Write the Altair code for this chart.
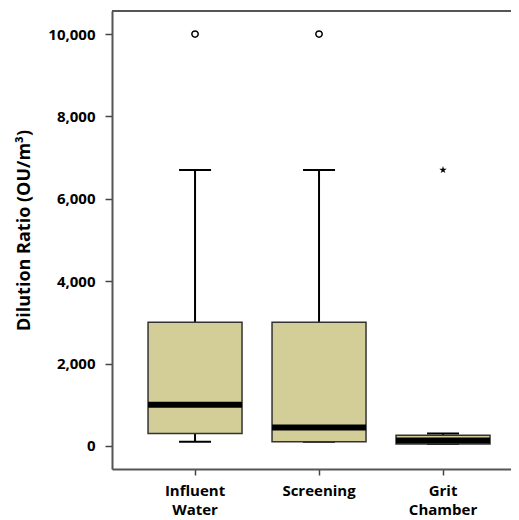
import altair as alt
import pandas as pd

categories = ["Influent Water", "Screening", "Grit Chamber"]
whisker_low = [100, 100, 50]
q1 = [300, 100, 50]
median = [1000, 450, 130]
q3 = [3000, 3000, 260]
whisker_high = [6700, 6700, 300]

outlier_cat = ["Influent Water", "Screening"]
outlier_val = [10000, 10000]
extreme_cat = ["Grit Chamber"]
extreme_val = [6700]

y_ticks = [0, 2000, 4000, 6000, 8000, 10000]

box_df = pd.DataFrame({
    "cat": categories, "lo": whisker_low, "q1": q1, "med": median,
    "q3": q3, "hi": whisker_high,
})
out_df = pd.DataFrame({"cat": outlier_cat, "val": outlier_val})
ext_df = pd.DataFrame({"cat": extreme_cat, "val": extreme_val})

FONT = "Open Sans"
W, H = 399, 458

xscale = alt.Scale(domain=categories, paddingInner=0.242, paddingOuter=0.23, align=0.632)
yscale = alt.Scale(domain=[-560, 10560], nice=False, zero=False)

x_axis = alt.Axis(
    labelAngle=0, labelExpr="split(datum.label, ' ')", labelFont=FONT,
    labelFontSize=15, labelFontWeight="bold", labelColor="black",
    labelLineHeight=19.5, labelPadding=8, tickSize=6, tickColor="#444",
    tickWidth=1.5, domainColor="#555", domainWidth=2, grid=False,
)
y_axis = alt.Axis(
    values=y_ticks, format=",d", labelFont=FONT, labelFontSize=15,
    labelFontWeight="bold", labelColor="black", labelPadding=10,
    tickSize=7, tickColor="#444", tickWidth=1.5, domainColor="#555",
    domainWidth=2, grid=False, title="Dilution Ratio (OU/m³)",
    titleFont=FONT, titleFontSize=18, titleFontWeight="bold",
    titleColor="black", titleAngle=270, titleX=-79, titleY=219,
    titleBaseline="bottom", titleAlign="center",
)

X = alt.X("cat:N", sort=categories, title=None, scale=xscale, axis=x_axis)

base = alt.Chart(box_df)

whisk = base.mark_rule(color="black", strokeWidth=2).encode(
    x=X, y=alt.Y("lo:Q", scale=yscale, axis=y_axis), y2="hi:Q")
caps_hi = base.mark_tick(color="black", size=32, thickness=2, opacity=1).encode(
    x=X, y=alt.Y("hi:Q", scale=yscale))
caps_lo = base.mark_tick(color="black", size=32, thickness=2, opacity=1).encode(
    x=X, y=alt.Y("lo:Q", scale=yscale))
box = base.mark_bar(fill="#D3CE98", stroke="#333", strokeWidth=1.5, opacity=1).encode(
    x=X, y=alt.Y("q1:Q", scale=yscale), y2="q3:Q")
med = base.mark_tick(color="black", size=94, thickness=6, opacity=1).encode(
    x=X, y=alt.Y("med:Q", scale=yscale))

outl = alt.Chart(out_df).mark_point(
    shape="circle", filled=False, stroke="black", strokeWidth=1.5, size=40, opacity=1
).encode(x=X, y=alt.Y("val:Q", scale=yscale))

STAR = ("M0,-1L0.2245,-0.309L0.951,-0.309L0.363,0.118L0.588,0.809L0,0.382"
        "L-0.588,0.809L-0.363,0.118L-0.951,-0.309L-0.2245,-0.309Z")
ext = alt.Chart(ext_df).mark_point(
    shape=STAR, filled=True, color="black", size=60, opacity=1
).encode(x=X, y=alt.Y("val:Q", scale=yscale))

top_line = alt.Chart(box_df).mark_rule(color="#555", strokeWidth=2).encode(
    x=alt.value(0), x2=alt.value(W), y=alt.value(0))

chart = alt.layer(whisk, caps_hi, caps_lo, box, med, outl, ext, top_line).properties(
    width=W, height=H,
    autosize=alt.AutoSizeParams(type="none"),
    padding={"left": 104, "top": 3, "right": 0, "bottom": 52},
).configure_view(stroke=None).configure(background="white")

chart.save("out.html", embed_options={"renderer": "svg", "actions": False})
